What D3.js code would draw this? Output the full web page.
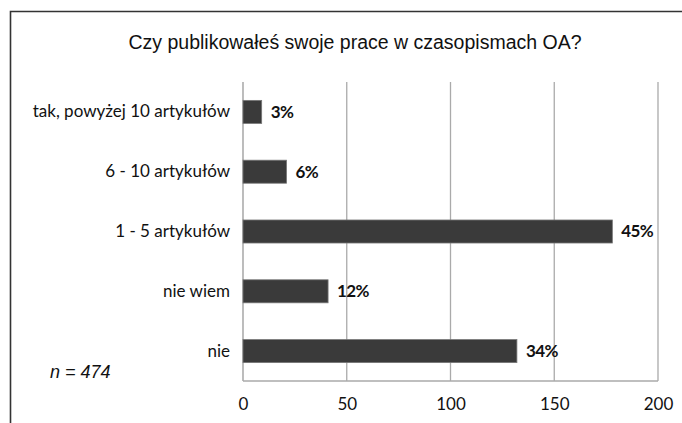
<!DOCTYPE html>
<html>
<head>
<meta charset="utf-8">
<script src="https://cdn.jsdelivr.net/npm/d3@7"></script>
<style>
body { margin: 0; background: #fff; }
</style>
</head>
<body>
<div id="chart"></div>
<script>
var categories = ["tak, powyżej 10 artykułów", "6 - 10 artykułów", "1 - 5 artykułów", "nie wiem", "nie"];
var values = [9, 21, 178, 41, 132];
var percentLabels = ["3%", "6%", "45%", "12%", "34%"];
var xTicks = [0, 50, 100, 150, 200];

var svgWidth = 682;
var svgHeight = 423;
var margin = { top: 82, right: 24, bottom: 42, left: 243 };
var width = svgWidth - margin.left - margin.right;
var height = svgHeight - margin.top - margin.bottom;

var svg = d3.select("#chart")
    .append("svg")
    .attr("width", svgWidth)
    .attr("height", svgHeight);

// outer frame (cropped on right and bottom)
svg.append("path")
    .attr("d", "M10.5,423 L10.5,11.5 L682,11.5")
    .attr("fill", "none")
    .attr("stroke", "#333")
    .attr("stroke-width", 1.6);

svg.append("text")
    .attr("x", 355)
    .attr("y", 49)
    .attr("text-anchor", "middle")
    .style("font-family", "'Liberation Sans', Arial, sans-serif")
    .style("font-size", "19.5px")
    .style("fill", "#111")
    .text("Czy publikowałeś swoje prace w czasopismach OA?");

var chartGroup = svg.append("g")
    .attr("transform", `translate(${margin.left}, ${margin.top})`);

var xScale = d3.scaleLinear()
    .domain([0, 200])
    .range([0, width]);

var yScale = d3.scaleBand()
    .domain(categories)
    .range([0, height])
    .padding(0);

var barH = yScale.bandwidth() * 0.385;

// gridlines
chartGroup.selectAll(".grid")
    .data(xTicks.slice(1))
    .enter()
    .append("line")
    .attr("x1", d => xScale(d))
    .attr("x2", d => xScale(d))
    .attr("y1", 0)
    .attr("y2", height)
    .attr("stroke", "#aaa")
    .attr("stroke-width", 1.3);

// axes lines
chartGroup.append("line")
    .attr("x1", 0).attr("x2", 0)
    .attr("y1", 0).attr("y2", height)
    .attr("stroke", "#999")
    .attr("stroke-width", 1.3);

chartGroup.append("line")
    .attr("x1", 0).attr("x2", width)
    .attr("y1", height).attr("y2", height)
    .attr("stroke", "#aaa")
    .attr("stroke-width", 1.3);

var bottomAxis = d3.axisBottom(xScale).tickValues(xTicks).tickSize(0).tickPadding(17);
var xAxisG = chartGroup.append("g")
    .attr("transform", `translate(0, ${height})`)
    .call(bottomAxis);
xAxisG.select(".domain").remove();
xAxisG.selectAll("text")
    .style("font-family", "Lato, 'Open Sans', sans-serif")
    .style("font-size", "17px")
    .style("fill", "#111");

var leftAxis = d3.axisLeft(yScale).tickSize(0).tickPadding(13);
var yAxisG = chartGroup.append("g").call(leftAxis);
yAxisG.select(".domain").remove();
yAxisG.selectAll("text")
    .style("font-family", "Lato, 'Open Sans', sans-serif")
    .style("font-size", "17px")
    .style("fill", "#111");

var rows = categories.map((c, i) => ({ cat: c, value: values[i], label: percentLabels[i] }));

chartGroup.selectAll(".bar")
    .data(rows)
    .enter()
    .append("rect")
    .attr("x", 0)
    .attr("y", d => yScale(d.cat) + (yScale.bandwidth() - barH) / 2)
    .attr("width", d => xScale(d.value))
    .attr("height", barH)
    .attr("fill", "#3a3a3a")
    .attr("stroke", "#777")
    .attr("stroke-width", 0.8);

chartGroup.selectAll(".val")
    .data(rows)
    .enter()
    .append("text")
    .attr("x", d => xScale(d.value) + 9)
    .attr("y", d => yScale(d.cat) + yScale.bandwidth() / 2)
    .attr("dy", "0.35em")
    .style("font-family", "Lato, 'Open Sans', sans-serif")
    .style("font-size", "17px")
    .style("letter-spacing", "-0.6px")
    .style("font-weight", "bold")
    .style("fill", "#111")
    .text(d => d.label);

svg.append("text")
    .attr("x", 50)
    .attr("y", 378)
    .style("font-family", "'Liberation Sans', Arial, sans-serif")
    .style("font-size", "18px")
    .style("font-style", "italic")
    .style("fill", "#111")
    .text("n = 474");
</script>
</body>
</html>
